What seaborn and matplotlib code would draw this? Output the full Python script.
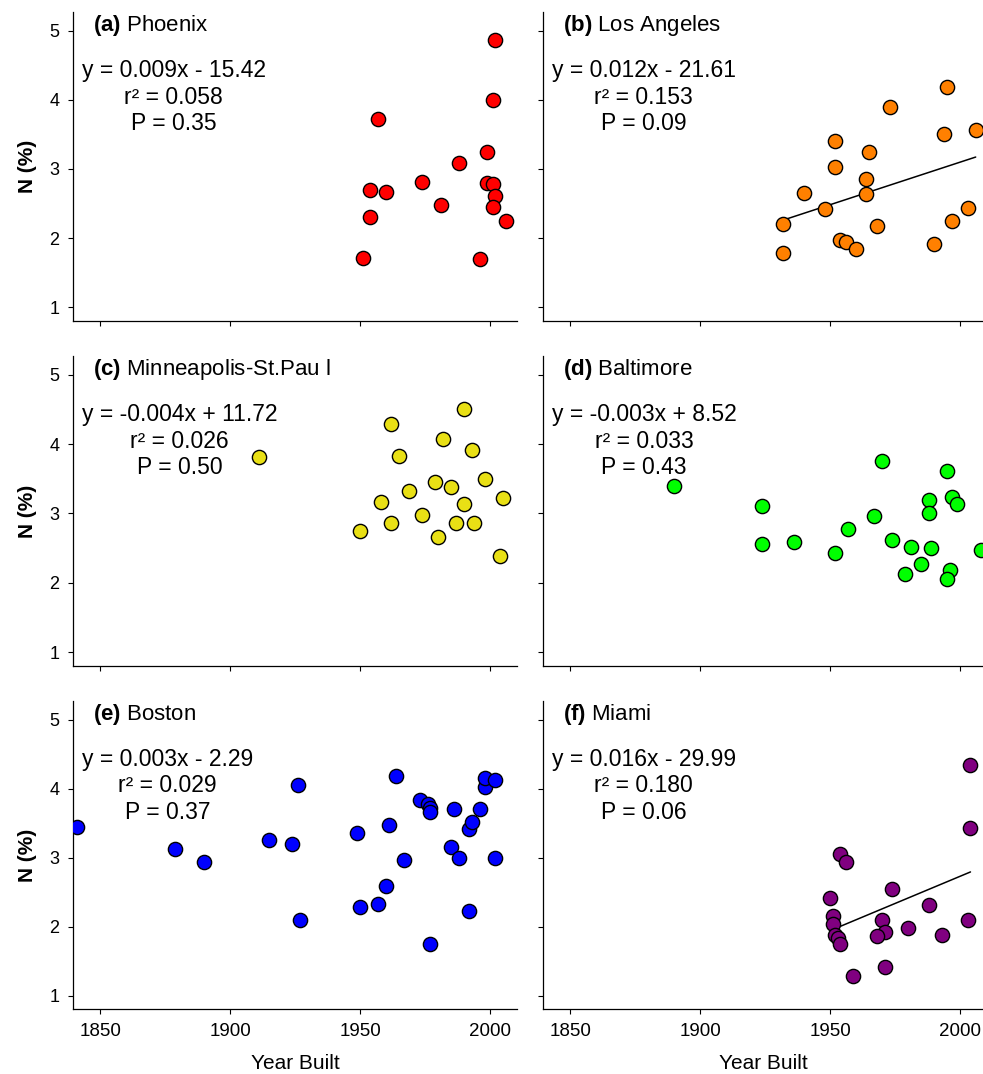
import matplotlib
matplotlib.use('Agg')
import matplotlib.pyplot as plt
import seaborn as sns

# values (year built, N %)
years_phoenix = [2002, 2001, 1957, 1999, 1988, 1974, 1954, 1960, 1999, 2001, 2002,
                 1981, 2001, 2006, 1954, 1951, 1996]
n_phoenix = [4.87, 4.00, 3.72, 3.25, 3.08, 2.81, 2.69, 2.67, 2.80, 2.78, 2.61,
             2.48, 2.45, 2.25, 2.30, 1.71, 1.69]

years_la = [1995, 1973, 1994, 2006, 1952, 1965, 1952, 1964, 1940, 1964,
            1948, 2003, 1997, 1932, 1968, 1954, 1956, 1960, 1990, 1932]
n_la = [4.18, 3.89, 3.50, 3.56, 3.40, 3.25, 3.03, 2.85, 2.65, 2.63,
        2.42, 2.44, 2.25, 2.21, 2.18, 1.97, 1.94, 1.84, 1.91, 1.79]

years_msp = [1911, 1962, 1990, 1982, 1993, 1965, 1998, 1979, 1985, 1969,
             2005, 1958, 1990, 1974, 1962, 1987, 1994, 1950, 1980, 2004]
n_msp = [3.81, 4.29, 4.51, 4.08, 3.91, 3.83, 3.49, 3.45, 3.38, 3.32,
         3.22, 3.17, 3.13, 2.98, 2.86, 2.86, 2.86, 2.75, 2.66, 2.38]

years_balt = [1890, 1970, 1995, 1988, 1997, 1999, 1988, 1924, 1967, 1957, 1974,
              1924, 1936, 1981, 1989, 2008, 1952, 1985, 1996, 1979, 1995]
n_balt = [3.39, 3.76, 3.61, 3.19, 3.24, 3.13, 3.00, 3.10, 2.97, 2.78, 2.61,
          2.56, 2.59, 2.51, 2.50, 2.47, 2.43, 2.27, 2.19, 2.12, 2.06]

years_boston = [1841, 1879, 1890, 1915, 1924, 1926, 1927, 1949, 1950, 1957,
                1960, 1961, 1964, 1967, 1973, 1976, 1977, 1977, 1977, 1985,
                1986, 1988, 1992, 1993, 1992, 1996, 1998, 1998, 2002, 2002]
n_boston = [3.45, 3.13, 2.93, 3.26, 3.20, 4.05, 2.09, 3.35, 2.28, 2.32,
            2.59, 3.47, 4.18, 2.96, 3.83, 3.77, 3.72, 3.66, 1.75, 3.16,
            3.71, 3.00, 3.42, 3.51, 2.23, 3.70, 4.02, 4.15, 4.13, 3.00]

years_miami = [2004, 2004, 1954, 1956, 1974, 1950, 1988, 1951, 2003, 1970,
               1951, 1980, 1971, 1952, 1953, 1968, 1993, 1954, 1971, 1959]
n_miami = [4.34, 3.43, 3.05, 2.93, 2.54, 2.42, 2.31, 2.15, 2.10, 2.09,
           2.03, 1.98, 1.92, 1.88, 1.84, 1.87, 1.88, 1.75, 1.41, 1.29]

panel_letters = ['(a)', '(b)', '(c)', '(d)', '(e)', '(f)']
city_names = ['Phoenix', 'Los Angeles', 'Minneapolis-St.Pau l', 'Baltimore', 'Boston', 'Miami']
equations = ['y = 0.009x - 15.42', 'y = 0.012x - 21.61', 'y = -0.004x + 11.72',
             'y = -0.003x + 8.52', 'y = 0.003x - 2.29', 'y = 0.016x - 29.99']
r2_values = ['0.058', '0.153', '0.026', '0.033', '0.029', '0.180']
p_values = ['0.35', '0.09', '0.50', '0.43', '0.37', '0.06']
show_fit = [False, True, False, False, False, True]
colors = ['#FF0000', '#FF8000', '#E9E015', '#00FF00', '#0000FF', '#800080']

years = [years_phoenix, years_la, years_msp, years_balt, years_boston, years_miami]
nvals = [n_phoenix, n_la, n_msp, n_balt, n_boston, n_miami]

sns.set_style('ticks')
plt.rcParams['font.family'] = ['Liberation Sans', 'DejaVu Sans']
plt.rcParams['mathtext.fontset'] = 'custom'
plt.rcParams['mathtext.rm'] = 'Liberation Sans'
plt.rcParams['mathtext.bf'] = 'Liberation Sans:bold'
plt.rcParams['axes.linewidth'] = 0.9
for key in ['text.color', 'axes.labelcolor', 'axes.edgecolor', 'xtick.color', 'ytick.color']:
    plt.rcParams[key] = 'black'

W, H = 983, 1074
fig = plt.figure(figsize=(W / 100, H / 100), dpi=100)

# panel geometry in pixels
col_left = [73.3, 543.3]
col_width = [443.4, 439.7]
row_top = [12, 356, 701]
row_height = [309, 310, 308.3]

for i in range(6):
    r, c = divmod(i, 2)
    ax = fig.add_axes([col_left[c] / W, (H - row_top[r] - row_height[r]) / H,
                       col_width[c] / W, row_height[r] / H])

    sns.scatterplot(x=years[i], y=nvals[i], ax=ax, color=colors[i], s=105,
                    edgecolor='black', linewidth=1.0, zorder=3)
    if show_fit[i]:
        sns.regplot(x=years[i], y=nvals[i], ax=ax, scatter=False, ci=None,
                    color='black', line_kws={'linewidth': 1.1})

    ax.set_xlim(1839.7, 1839.7 + col_width[c] / 2.6)
    ax.set_ylim(0.8, 5.27)
    ax.set_xticks([1850, 1900, 1950, 2000])
    ax.set_yticks([1, 2, 3, 4, 5])
    ax.tick_params(axis='both', direction='out', length=3.6, width=0.8, pad=6.5)
    ax.tick_params(axis='x', labelsize=13.5)
    ax.tick_params(axis='y', labelsize=13)
    sns.despine(ax=ax)

    if c == 0:
        ax.set_ylabel('N (%)', fontsize=15, fontweight='bold')
        ax.yaxis.set_label_coords(-0.082, 0.5)
    else:
        ax.set_ylabel('')
        ax.tick_params(axis='y', labelleft=False)
    if r == 2:
        ax.set_xlabel('Year Built', fontsize=15)
        ax.xaxis.set_label_coords(0.5, -0.145)
    else:
        ax.set_xlabel('')
        ax.tick_params(axis='x', labelbottom=False)

    ax.text(0.044, 0.9385, r'$\mathbf{' + panel_letters[i] + '}$ ' + city_names[i],
            transform=ax.transAxes, fontsize=16, va='baseline', ha='left')
    ax.text(0.019, 0.848,
            equations[i] + '\nr\u00b2 = ' + r2_values[i] + '\nP = ' + p_values[i],
            transform=ax.transAxes, fontsize=16.5, va='top', ha='left',
            multialignment='center', linespacing=1.2)

fig.savefig('out.png', dpi=100)
